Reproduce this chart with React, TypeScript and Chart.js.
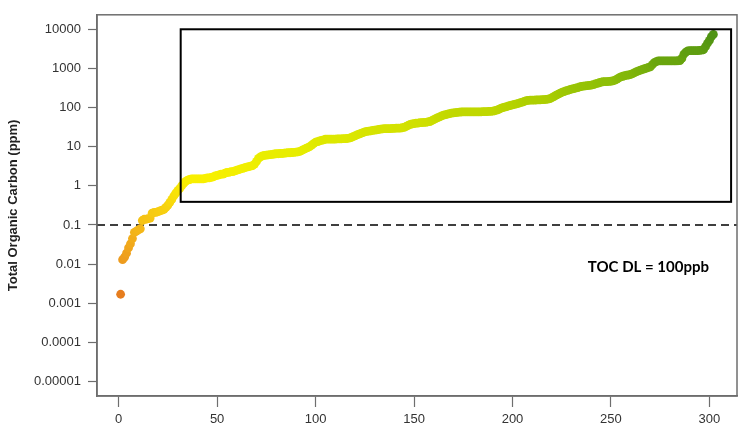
import React, { useEffect, useRef } from "react";
import { Chart, registerables } from "chart.js";

Chart.register(...registerables);

// Sorted TOC values (ppm), sample rank 1..n
const tocValues: number[] = [
  0.0017, 0.013, 0.015, 0.019, 0.026, 0.033, 0.045, 0.065, 0.07, 0.075,
  0.08, 0.13, 0.14, 0.14, 0.145, 0.15, 0.2, 0.21, 0.21, 0.22,
  0.23, 0.24, 0.25, 0.28, 0.32, 0.38, 0.45, 0.55, 0.65, 0.75,
  0.85, 1.0, 1.15, 1.3, 1.4, 1.45, 1.5, 1.5, 1.5, 1.5,
  1.5, 1.5, 1.5, 1.55, 1.6, 1.6, 1.65, 1.7, 1.8, 1.85,
  1.9, 2.0, 2.0, 2.1, 2.2, 2.2, 2.3, 2.3, 2.4, 2.5,
  2.6, 2.7, 2.8, 2.9, 3.0, 3.1, 3.2, 3.3, 3.6, 4.2,
  5.0, 5.5, 5.8, 6.0, 6.1, 6.2, 6.3, 6.4, 6.5, 6.6,
  6.6, 6.7, 6.7, 6.8, 6.9, 7.0, 7.0, 7.1, 7.2, 7.3,
  7.4, 7.6, 8.0, 8.5, 9.0, 9.5, 10, 11, 12, 13,
  13.5, 14, 14.5, 15, 15.5, 15.6, 15.6, 15.6, 15.7, 15.7,
  15.8, 15.8, 15.9, 16, 16, 16.2, 16.5, 17, 18, 19,
  20, 21, 22, 23, 24, 24.5, 25, 25.5, 26, 26.5,
  27, 27.5, 28, 28.5, 29, 29, 29, 29, 29.5, 29.5,
  30, 30, 30, 30.5, 31, 33, 35, 37, 38, 39,
  40, 40, 41, 41, 42, 42, 43, 44, 46, 49,
  52, 55, 58, 61, 64, 66, 68, 70, 72, 73,
  74, 75, 76, 77, 78, 78, 78, 78, 78, 78,
  78, 78, 78, 78, 79, 79, 79, 80, 80, 81,
  83, 86, 90, 95, 100, 103, 106, 110, 113, 117,
  120, 124, 128, 133, 138, 144, 150, 153, 155, 155,
  155, 156, 157, 158, 159, 160, 162, 165, 170, 178,
  190, 205, 217, 230, 245, 255, 265, 275, 285, 295,
  305, 315, 325, 335, 345, 352, 358, 365, 370, 376,
  385, 400, 415, 430, 445, 457, 460, 462, 465, 470,
  480, 500, 530, 570, 610, 630, 650, 670, 680, 700,
  740, 780, 830, 870, 900, 940, 980, 1020, 1060, 1100,
  1250, 1400, 1500, 1550, 1560, 1560, 1560, 1560, 1560, 1560,
  1560, 1560, 1560, 1570, 1580, 1800, 2300, 2600, 2800, 2850,
  2850, 2850, 2850, 2850, 2900, 2950, 3000, 3600, 4400, 5200,
  6500, 7400,
];

const yTicks = [0.00001, 0.0001, 0.001, 0.01, 0.1, 1, 10, 100, 1000, 10000];
const yTickLabels = ["0.00001", "0.0001", "0.001", "0.01", "0.1", "1", "10", "100", "1000", "10000"];
const xTicks = [0, 50, 100, 150, 200, 250, 300];
const yTitle = "Total Organic Carbon (ppm)";
const detectionLimit = 0.1;
const dlLabel = "TOC DL = 100ppb";
const dlLabelPos = [269, 0.0085];
const boxX = [31.5, 311];
const boxY = [0.39, 10000];

// colour ramp in log10(value) space
const colorStops: [number, number[]][] = [
  [-2.8, [230, 124, 30]],
  [-1.8, [238, 158, 30]],
  [-1.2, [243, 178, 26]],
  [-0.8, [246, 198, 20]],
  [-0.3, [248, 220, 12]],
  [0.2, [248, 240, 0]],
  [1.0, [228, 236, 0]],
  [1.6, [208, 224, 0]],
  [2.1, [180, 210, 0]],
  [2.7, [140, 190, 8]],
  [3.2, [105, 165, 14]],
  [3.9, [78, 146, 20]],
];

function rampColor(v: number): string {
  const l = Math.log10(v);
  if (l <= colorStops[0][0]) return `rgb(${colorStops[0][1].join(",")})`;
  for (let i = 1; i < colorStops.length; i++) {
    const [l1, c1] = colorStops[i];
    const [l0, c0] = colorStops[i - 1];
    if (l <= l1) {
      const t = (l - l0) / (l1 - l0);
      const c = c0.map((a, k) => Math.round(a + (c1[k] - a) * t));
      return `rgb(${c.join(",")})`;
    }
  }
  return `rgb(${colorStops[colorStops.length - 1][1].join(",")})`;
}

const overlayPlugin = {
  id: "overlay",
  beforeDatasetsDraw(chart: any) {
    const { ctx, chartArea, scales } = chart;
    const y = scales.y.getPixelForValue(detectionLimit);
    ctx.save();
    ctx.strokeStyle = "#000";
    ctx.lineWidth = 1.5;
    ctx.setLineDash([8, 5]);
    ctx.beginPath();
    ctx.moveTo(chartArea.left, y);
    ctx.lineTo(chartArea.right, y);
    ctx.stroke();
    ctx.restore();
  },
  afterDatasetsDraw(chart: any) {
    const { ctx, chartArea, scales } = chart;
    const xs = scales.x;
    const ys = scales.y;
    ctx.save();
    // frame
    ctx.strokeStyle = "#6e6e6e";
    ctx.lineWidth = 1.5;
    ctx.strokeRect(chartArea.left, chartArea.top, chartArea.right - chartArea.left, chartArea.bottom - chartArea.top);
    // highlight box
    const x0 = xs.getPixelForValue(boxX[0]);
    const x1 = xs.getPixelForValue(boxX[1]);
    const y0 = ys.getPixelForValue(boxY[1]);
    const y1 = ys.getPixelForValue(boxY[0]);
    ctx.strokeStyle = "#000";
    ctx.lineWidth = 2;
    ctx.strokeRect(x0, y0, x1 - x0, y1 - y0);
    // DL label
    ctx.fillStyle = "#000";
    ctx.font = "bold 15px Lato, 'Open Sans', sans-serif";
    ctx.textAlign = "center";
    ctx.textBaseline = "middle";
    ctx.fillText(dlLabel, xs.getPixelForValue(dlLabelPos[0]), ys.getPixelForValue(dlLabelPos[1]));
    ctx.restore();
  },
};

export default function App() {
  const canvasRef = useRef<HTMLCanvasElement | null>(null);

  useEffect(() => {
    document.body.style.margin = "0";
    const canvas = canvasRef.current;
    if (!canvas) return;
    const points = tocValues.map((v, i) => ({ x: i + 1, y: v }));
    const colors = tocValues.map((v) => rampColor(v));
    const tickFont = { family: "'Liberation Sans', Arial, sans-serif", size: 13 };
    const chart = new Chart(canvas, {
      type: "scatter",
      data: {
        datasets: [
          {
            data: points,
            pointRadius: 4.4,
            pointHoverRadius: 4.4,
            pointBorderWidth: 0,
            pointBackgroundColor: colors,
            pointBorderColor: colors,
          },
        ],
      },
      options: {
        animation: false,
        responsive: false,
        maintainAspectRatio: false,
        layout: { padding: { top: 13, right: 6, left: 0, bottom: 0 } },
        plugins: {
          legend: { display: false },
          tooltip: { enabled: false },
        },
        scales: {
          x: {
            type: "linear",
            min: -11,
            max: 314,
            afterBuildTicks: (scale: any) => {
              scale.ticks = xTicks.map((v) => ({ value: v }));
            },
            afterFit: (scale: any) => {
              scale.height = 29;
            },
            grid: { display: true, drawOnChartArea: false, drawTicks: true, tickLength: 11, tickColor: "#6e6e6e", tickWidth: 1.2 },
            border: { display: true, color: "#6e6e6e", width: 1.5 },
            ticks: { font: tickFont, color: "#333", padding: 5, maxRotation: 0, autoSkip: false },
          },
          y: {
            type: "logarithmic",
            min: 4.27e-6,
            max: 23442,
            afterBuildTicks: (scale: any) => {
              scale.ticks = yTicks.map((v) => ({ value: v }));
            },
            afterFit: (scale: any) => {
              scale.width = 97;
            },
            grid: { display: true, drawOnChartArea: false, drawTicks: true, tickLength: 9, tickColor: "#6e6e6e", tickWidth: 1.2 },
            border: { display: true, color: "#6e6e6e", width: 1.5 },
            ticks: {
              font: tickFont,
              color: "#333",
              padding: 7,
              autoSkip: false,
              callback: (value: any) => {
                const i = yTicks.indexOf(Number(value));
                return i >= 0 ? yTickLabels[i] : "";
              },
            },
            title: {
              display: true,
              text: yTitle,
              color: "#222",
              font: { family: "'Liberation Sans', Arial, sans-serif", size: 13, weight: "bold" },
              padding: { top: 6, bottom: 2 },
            },
          },
        },
      },
      plugins: [overlayPlugin],
    } as any);
    return () => chart.destroy();
  }, []);

  return (
    <div style={{ position: "absolute", left: 0, top: 0, width: 743, height: 425 }}>
      <canvas ref={canvasRef} width={743} height={425} style={{ width: 743, height: 425 }} />
    </div>
  );
}
